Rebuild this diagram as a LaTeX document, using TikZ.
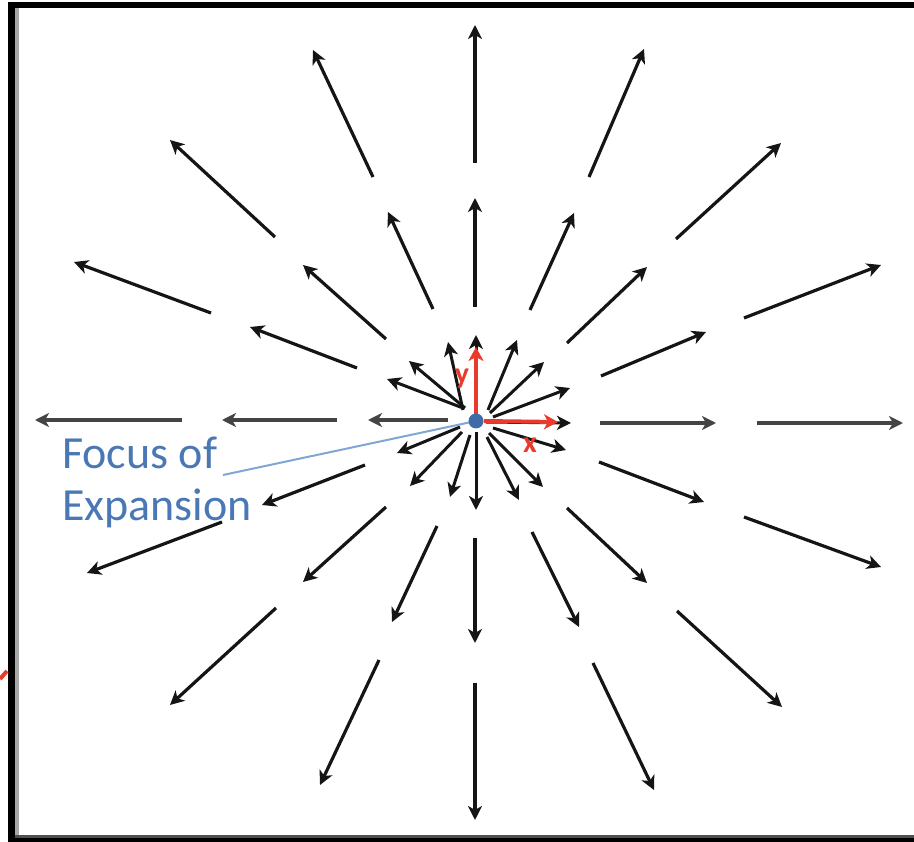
\documentclass[tikz,border=0pt]{standalone}
\usepackage{fontspec}
\setmainfont{Carlito}
\usetikzlibrary{arrows.meta}
\definecolor{arr}{HTML}{151515}
\definecolor{hgray}{HTML}{444444}
\definecolor{redv}{HTML}{EA3A2C}
\definecolor{focusblue}{HTML}{4A78B5}
\definecolor{dotblue}{HTML}{3F6CA8}
\definecolor{lineblue}{HTML}{7FA6D4}
\definecolor{framegray}{HTML}{A8A8A8}
\definecolor{framedark}{HTML}{505050}
\begin{document}
\begin{tikzpicture}[x=1pt,y=-1pt,
  vec/.style={draw=arr, line width=3.2pt, -{Stealth[length=14pt,width=14pt,inset=4pt]}},
  hvec/.style={vec, draw=hgray, line width=4.2pt},
  redvec/.style={draw=redv, line width=4pt, -{Stealth[length=14pt,width=15pt,inset=4pt]}},
  lbl/.style={inner sep=0pt, font=\fontsize{46}{52}\selectfont, text=focusblue, anchor=base west},
  axlbl/.style={inner sep=0pt, font=\fontsize{30}{32}\selectfont\bfseries, text=redv}]
\useasboundingbox (0,0) rectangle (914,842);
% frame
\fill[black] (8,2) rectangle (914,8);
\fill[black] (8,2) rectangle (15,842);
\fill[framegray] (15,8) rectangle (19,835);
\fill[framedark] (15,835) rectangle (914,838);
\fill[black] (8,838) rectangle (914,842);
\draw[redv, line width=4pt] (0,679) -- (7,671);
% focus
\coordinate (F) at (476,421);
% outer and middle arrows
\foreach \ax/\ay/\bx/\by in {
  373/177/313/50, 275/237/170/140, 211/313/74/262,
  433/309/388/212, 386/339/303/265, 357/368/250/327,
  475/163/475/25, 475/307/475/198,
  589/177/644/49, 676/239/781/143, 744/318/881/265,
  530/310/574/213, 567/343/647/267, 601/376/706/332,
  365/465/262/505, 386/507/303/582, 437/526/392/622,
  222/522/87/573, 276/608/170/705, 379/660/320/785,
  475/538/475/643, 475/683/475/820,
  599/462/704/502, 567/508/647/583, 532/532/579/627,
  744/517/881/567, 677/611/782/707, 593/663/654/790}
  {\draw[vec] (\ax,\ay) coordinate (t) -- (\bx,\by) coordinate (h);}
% horizontal arrows
\foreach \ax/\ay/\bx/\by in {
  182/420/35/420, 337/420/222/420, 448/420/368/420,
  600/423/716/423, 757/423/903/423}
  {\draw[hvec] (\ax,\ay) coordinate (t) -- (\bx,\by) coordinate (h);}
% inner arrows
\foreach \ax/\ay/\bx/\by in {
  463/410/448/342, 476/412/476/335, 488/410/517/340,
  490/413/544/362, 493/417/570/388, 486/422/571/423,
  493/428/566/450, 489/433/543/487, 487/437/519/500,
  476/432/476/510, 470/435/450/497, 462/432/410/486,
  460/427/397/453, 463/408/387/379, 465/408/409/361}
  {\draw[vec, line width=3pt] (\ax,\ay) coordinate (t) -- (\bx,\by) coordinate (h);}
% red axes
\coordinate (ytip) at (476,347);
\coordinate (xtip) at (558,422);
\draw[redvec] (F) -- (ytip);
\draw[redvec] ([xshift=8pt]F) -- (xtip);
\node[axlbl] (ylab) at (462,379) {y};
\node[axlbl] (xlab) at (530,445) {x};
% leader and dot
\coordinate (lead) at (223,475);
\draw[lineblue, line width=2pt] (F) -- (lead);
\fill[dotblue] (F) circle (7.5pt);
\node[lbl] (foc) at (62,468) {Focus of};
\node[lbl] (exp) at (62,520) {Expansion};
\end{tikzpicture}
\end{document}
